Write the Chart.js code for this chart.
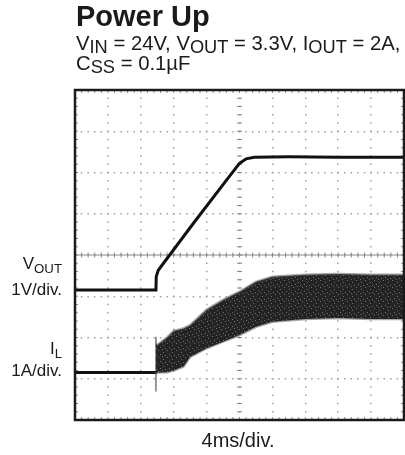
<!DOCTYPE html>
<html>
<head>
<meta charset="utf-8">
<script src="https://cdn.jsdelivr.net/npm/chart.js@4.4.0/dist/chart.umd.min.js"></script>
<style>
  html, body { margin: 0; padding: 0; background: #fff; }
  #wrap { position: relative; width: 405px; height: 455px; font-family: "Liberation Sans", Arial, Helvetica, sans-serif; color: #1a1a1a; }
  canvas { position: absolute; left: 0; top: 0; }
  .t { position: absolute; white-space: nowrap; line-height: 1; }
  .t sub { font-size: 0.9em; vertical-align: -0.18em; line-height: 0; }
  .lab sub { font-size: 0.78em; vertical-align: -0.3em; }
</style>
</head>
<body>
<div id="wrap">
  <canvas id="scope" width="405" height="455"></canvas>
  <div class="t" style="left:76px;top:2px;font-size:29px;font-weight:bold;">Power Up</div>
  <div class="t" style="left:76px;top:33px;font-size:20.3px;">V<sub>IN</sub> = 24V, V<sub>OUT</sub> = 3.3V, I<sub>OUT</sub> = 2A,</div>
  <div class="t" style="left:76px;top:53px;font-size:20.3px;">C<sub>SS</sub> = 0.1&micro;F</div>
  <div class="t lab" style="right:343px;top:255px;font-size:17px;">V<sub>OUT</sub></div>
  <div class="t" style="right:343px;top:281px;font-size:17px;">1V/div.</div>
  <div class="t lab" style="right:343px;top:340px;font-size:17px;">I<sub>L</sub></div>
  <div class="t" style="right:343px;top:362px;font-size:17px;">1A/div.</div>
  <div class="t" style="left:238px;top:430px;font-size:20px;transform:translateX(-50%);">4ms/div.</div>
</div>
<script>
// screen divisions: 10 across (4ms/div), 8 down
const xDivs = 10;
const yDivs = 8;

// V_OUT trace (x in div, y in div from bottom)
const voutX = [0, 2.46, 2.47, 2.53, 3.6, 4.61, 5.0, 5.2, 5.45, 6.5, 8, 10];
const voutY = [3.15, 3.15, 3.48, 3.63, 4.77, 5.82, 6.22, 6.33, 6.37, 6.38, 6.37, 6.37];

// I_L before switching starts
const ilX = [0, 2.46];
const ilY = [1.15, 1.15];

// I_L ripple band (upper / lower envelope)
const bandX = [2.46, 2.5, 2.8, 3.0, 3.3, 3.5, 4.0, 4.5, 5.0, 5.5, 6.0, 7.0, 8.0, 9.0, 10];
const bandHi = [1.85, 1.82, 2.0, 2.16, 2.22, 2.3, 2.67, 2.91, 3.11, 3.35, 3.47, 3.52, 3.54, 3.52, 3.52];
const bandLo = [1.12, 1.15, 1.16, 1.2, 1.3, 1.53, 1.74, 1.9, 2.06, 2.26, 2.38, 2.45, 2.47, 2.45, 2.45];

// turn-on spike on I_L
const spikeX = [2.46, 2.46];
const spikeY = [0.69, 2.02];

const pts = (xs, ys) => xs.map((x, i) => ({ x: x, y: ys[i] }));

const ctx = document.getElementById('scope').getContext('2d');

// speckled fill for the noisy current band
function speckle(c2d) {
    const tile = document.createElement('canvas');
    tile.width = 9; tile.height = 7;
    const g = tile.getContext('2d');
    g.fillStyle = '#242424';
    g.fillRect(0, 0, 9, 7);
    g.fillStyle = '#6e6e6e';
    [[1, 2], [5, 0], [3, 5], [7, 4], [0, 6]].forEach(p => g.fillRect(p[0], p[1], 1, 1));
    return c2d.createPattern(tile, 'repeat');
}

// center cross ticks, edge ticks and frame
const scopeFrame = {
    id: 'scopeFrame',
    beforeDatasetsDraw(chart) {
        const { ctx: c, chartArea: a, scales: { x, y } } = chart;
        const cx = x.getPixelForValue(xDivs / 2);
        const cy = y.getPixelForValue(yDivs / 2);
        c.save();
        c.strokeStyle = '#8a8a8a';
        c.lineWidth = 1;
        c.beginPath();
        c.moveTo(a.left, cy); c.lineTo(a.right, cy);
        for (let i = 1; i < xDivs * 5; i++) {
            const px = x.getPixelForValue(i / 5);
            c.moveTo(px, cy - 2.5); c.lineTo(px, cy + 2.5);
            c.moveTo(px, a.bottom); c.lineTo(px, a.bottom - 3);
            c.moveTo(px, a.top); c.lineTo(px, a.top + 3);
        }
        for (let j = 1; j < yDivs * 5; j++) {
            const py = y.getPixelForValue(j / 5);
            c.moveTo(cx - 2.5, py); c.lineTo(cx + 2.5, py);
            c.moveTo(a.left, py); c.lineTo(a.left + 3, py);
            c.moveTo(a.right, py); c.lineTo(a.right - 3, py);
        }
        c.stroke();
        c.restore();
    },
    afterDraw(chart) {
        const { ctx: c, chartArea: a } = chart;
        c.save();
        c.strokeStyle = '#1a1a1a';
        c.lineWidth = 2.5;
        c.strokeRect(a.left, a.top, a.right - a.left, a.bottom - a.top);
        c.restore();
    }
};

new Chart(ctx, {
    type: 'line',
    data: {
        datasets: [
            {
                data: pts(bandX, bandHi),
                borderColor: 'rgba(80,80,80,0.5)',
                borderWidth: 2.5,
                backgroundColor: speckle(ctx),
                fill: '+1',
                pointRadius: 0
            },
            {
                data: pts(bandX, bandLo),
                borderColor: 'rgba(80,80,80,0.5)',
                borderWidth: 2.5,
                fill: false,
                pointRadius: 0
            },
            {
                data: pts(spikeX, spikeY),
                borderColor: 'rgba(60,60,60,0.7)',
                borderWidth: 1.5,
                fill: false,
                pointRadius: 0
            },
            {
                data: pts(ilX, ilY),
                borderColor: '#111',
                borderWidth: 3,
                fill: false,
                pointRadius: 0
            },
            {
                data: pts(voutX, voutY),
                borderColor: '#111',
                borderWidth: 3,
                fill: false,
                pointRadius: 0
            }
        ]
    },
    options: {
        responsive: false,
        animation: false,
        layout: { padding: { left: 75, top: 90, right: 1, bottom: 35 } },
        plugins: { legend: { display: false }, tooltip: { enabled: false } },
        scales: {
            x: {
                type: 'linear',
                min: 0,
                max: xDivs,
                ticks: { display: false, stepSize: 1 },
                border: { display: false, dash: [1.5, 6.75], dashOffset: 0.75 },
                grid: { color: '#a0a0a0', lineWidth: 1.5, drawTicks: false }
            },
            y: {
                min: 0,
                max: yDivs,
                ticks: { display: false, stepSize: 1 },
                border: { display: false, dash: [1.5, 5.08], dashOffset: 0.75 },
                grid: { color: '#a0a0a0', lineWidth: 1.5, drawTicks: false }
            }
        }
    },
    plugins: [scopeFrame]
});
</script>
</body>
</html>
